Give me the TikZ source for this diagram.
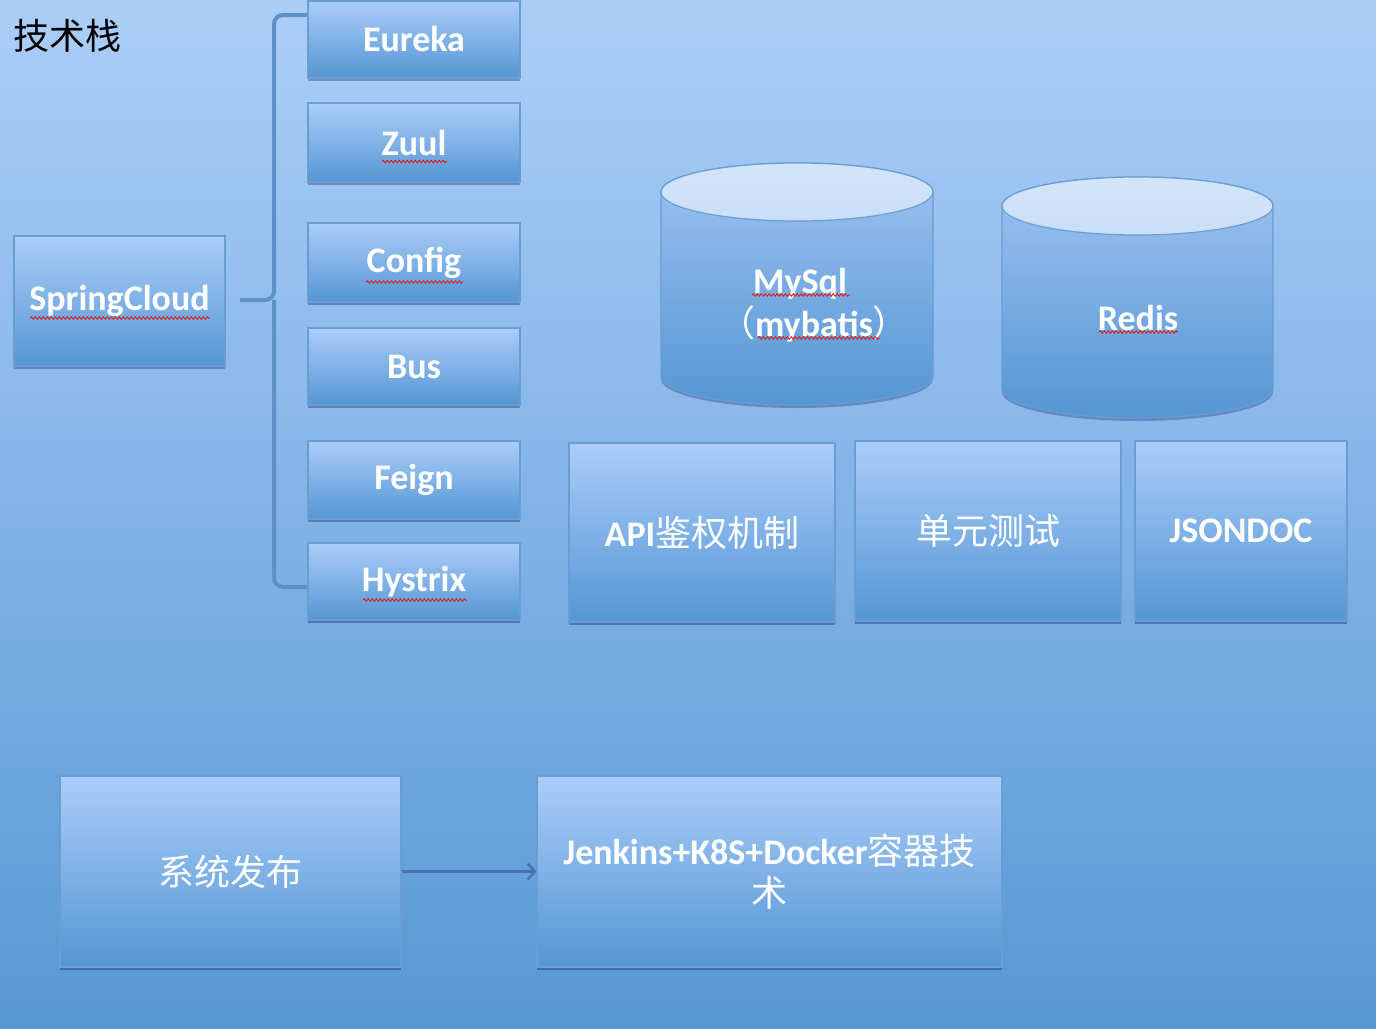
\documentclass[tikz,border=0pt]{standalone}
\usepackage{fontspec}
\setmainfont{Carlito}
\newfontfamily\cjk{Noto Sans CJK SC}
\usetikzlibrary{shadows,arrows.meta,decorations.pathmorphing}
\definecolor{bgtop}{HTML}{ABCEF8}
\definecolor{bgbot}{HTML}{5898D4}
\definecolor{boxtop}{HTML}{AACDF9}
\definecolor{boxbot}{HTML}{5596D4}
\definecolor{boxline}{HTML}{6A9DD2}
\definecolor{cyltop}{HTML}{C9DEF8}
\definecolor{cylbody}{HTML}{9EC3F1}
\definecolor{bracecol}{HTML}{5E8FC8}
\definecolor{arrowcol}{HTML}{4674B0}
\definecolor{squigcol}{HTML}{E02020}
\tikzset{
  box/.style={draw=boxline, line width=1.2pt, top color=boxtop, bottom color=boxbot,
    text=white, font=\bfseries\fontsize{36}{42}\selectfont, inner sep=0pt, align=center,
    drop shadow={shadow xshift=0pt, shadow yshift=-3pt, opacity=0.3, fill=black!70!blue}},
  cylbodystyle/.style={draw=boxline, line width=1.2pt, top color=cylbody, bottom color=boxbot,
    drop shadow={shadow xshift=0pt, shadow yshift=-3pt, opacity=0.25, fill=black!70!blue}},
  cyltopstyle/.style={draw=boxline, line width=1.2pt, top color=cyltop!80!white, bottom color=cyltop},
  cyltext/.style={text=white, font=\bfseries\fontsize{36}{42}\selectfont, inner sep=0pt},
  brace/.style={draw=bracecol, line width=4pt, rounded corners=9pt},
  arrowline/.style={draw=arrowcol, line width=3.5pt, -{Straight Barb[length=7pt,width=16pt,line width=2.5pt]}},
  squig/.style={draw=squigcol, line width=1pt, decorate,
    decoration={snake, amplitude=1.1pt, segment length=4pt}},
}
\newcommand\zh[1]{{\mdseries\cjk #1}}
\begin{document}
\begin{tikzpicture}[x=1pt,y=-1pt]
\useasboundingbox (0,0) rectangle (1376,1028);
\shade[top color=bgtop, bottom color=bgbot] (0,0) rectangle (1376,1028);

% title
\node[anchor=west, inner sep=0pt, font=\cjk\fontsize{36}{40}\selectfont, text=black] (title) at (13,36) {技术栈};

% bracket
\coordinate (btop) at (308,15);
\coordinate (bbot) at (308,587);
\coordinate (bmid) at (240,300);
\draw[brace] (btop) -- (274,15) -- (274,300) -- (bmid);
\draw[brace] (bbot) -- (274,587) -- (274,300);

% SpringCloud stack
\node[box, minimum width=211, minimum height=130] (spring) at (119.5,301) {SpringCloud};
\node[box, minimum width=212, minimum height=77] (eureka) at (414,39.5) {Eureka};
\node[box, minimum width=212, minimum height=79] (zuul) at (414,142.5) {Zuul};
\node[box, minimum width=212, minimum height=79] (config) at (414,262.5) {Config};
\node[box, minimum width=212, minimum height=77] (bus) at (414,366.5) {Bus};
\node[box, minimum width=212, minimum height=78] (feign) at (414,480) {Feign};
\node[box, minimum width=212, minimum height=77] (hystrix) at (414,581.5) {Hystrix};

% cylinders
\path[cylbodystyle] (661,192) -- (661,376) arc[start angle=180, end angle=360, x radius=136pt, y radius=29pt] -- (933,192) arc[start angle=0, end angle=180, x radius=136pt, y radius=29pt] -- cycle;
\path[cyltopstyle] (797,192) ellipse[x radius=136pt, y radius=29pt];
\node[cyltext] (mysqlA) at (800,284) {MySql};
\node[cyltext] (mysqlB) at (814,324) {\zh{（}mybatis\zh{）}};

\path[cylbodystyle] (1002,206) -- (1002,389) arc[start angle=180, end angle=360, x radius=135.5pt, y radius=29pt] -- (1273,206) arc[start angle=0, end angle=180, x radius=135.5pt, y radius=29pt] -- cycle;
\path[cyltopstyle] (1137.5,206) ellipse[x radius=135.5pt, y radius=29pt];
\node[cyltext] (redis) at (1138,318) {Redis};

% middle row
\node[box, minimum width=266, minimum height=179] (api) at (702,532.5) {API\zh{鉴权机制}};
\node[box, minimum width=266, minimum height=180] (unit) at (988,531) {\zh{单元测试}};
\node[box, minimum width=212, minimum height=180] (json) at (1241,531) {JSONDOC};

% bottom row
\node[box, minimum width=341, minimum height=191] (sys) at (230.5,871.5) {\zh{系统发布}};
\node[box, minimum width=465, minimum height=191] (jenk) at (769.5,871.5) {Jenkins+K8S+Docker\zh{容器技}\\\zh{术}};
\draw[arrowline] (sys.east) -- (jenk.west);

% spell-check squiggles
\draw[squig] ([shift={(-32,19)}]zuul.center) -- ([shift={(33,19)}]zuul.center);
\draw[squig] ([shift={(-48,19.5)}]config.center) -- ([shift={(49,19.5)}]config.center);
\draw[squig] ([shift={(-51,18.5)}]hystrix.center) -- ([shift={(53,18.5)}]hystrix.center);
\draw[squig] ([shift={(-89.5,17)}]spring.center) -- ([shift={(90.5,17)}]spring.center);
\draw[squig] ([shift={(-48,11)}]mysqlA.center) -- ([shift={(50,11)}]mysqlA.center);
\draw[squig] ([shift={(-56,14)}]mysqlB.center) -- ([shift={(66,14)}]mysqlB.center);
\draw[squig] ([shift={(-39,14)}]redis.center) -- ([shift={(40,14)}]redis.center);
\end{tikzpicture}
\end{document}
